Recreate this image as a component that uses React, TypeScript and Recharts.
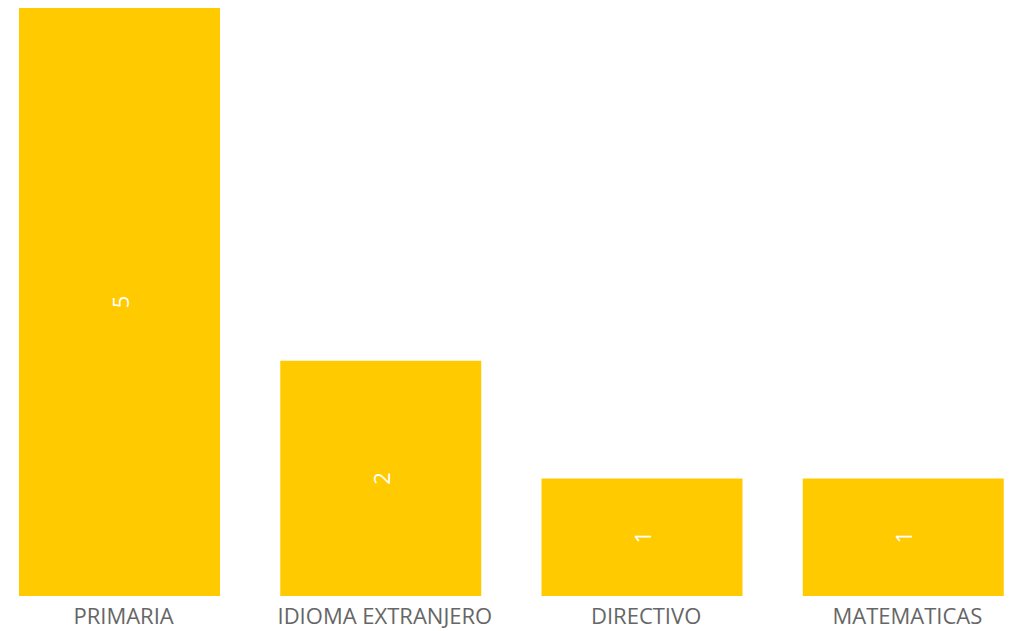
import { BarChart, Bar, XAxis, YAxis, LabelList } from "recharts";

const categories = ["PRIMARIA", "IDIOMA EXTRANJERO", "DIRECTIVO", "MATEMATICAS"];
const counts = [5, 2, 1, 1];

const data = categories.map((name, i) => ({ name, count: counts[i] }));

const FONT = "'Open Sans', 'Noto Sans', sans-serif";

function RotatedLabel(props: any) {
  const { x, y, width, height, value } = props;
  const cx = x + width / 2;
  const cy = y + height / 2;
  return (
    <text
      x={cx}
      y={cy}
      fill="#ffffff"
      fontSize={22}
      fontFamily={FONT}
      textAnchor="middle"
      dominantBaseline="central"
      transform={`rotate(-90, ${cx}, ${cy})`}
    >
      {value}
    </text>
  );
}

export default function App() {
  return (
    <div style={{ position: "absolute", left: 0, top: 0, background: "#fff" }}>
      <BarChart
        width={1009}
        height={631}
        data={data}
        margin={{ top: 8, right: -25, bottom: 0, left: -11 }}
      >
        <XAxis
          dataKey="name"
          axisLine={false}
          tickLine={false}
          height={35}
          interval={0}
          tick={{ fill: "#666666", fontSize: 22, fontFamily: FONT, dx: 4, dy: 4 }}
        />
        <YAxis hide domain={[0, 5]} />
        <Bar dataKey="count" fill="#FFCA00" barSize={201} isAnimationActive={false}>
          <LabelList dataKey="count" content={RotatedLabel} />
        </Bar>
      </BarChart>
    </div>
  );
}
